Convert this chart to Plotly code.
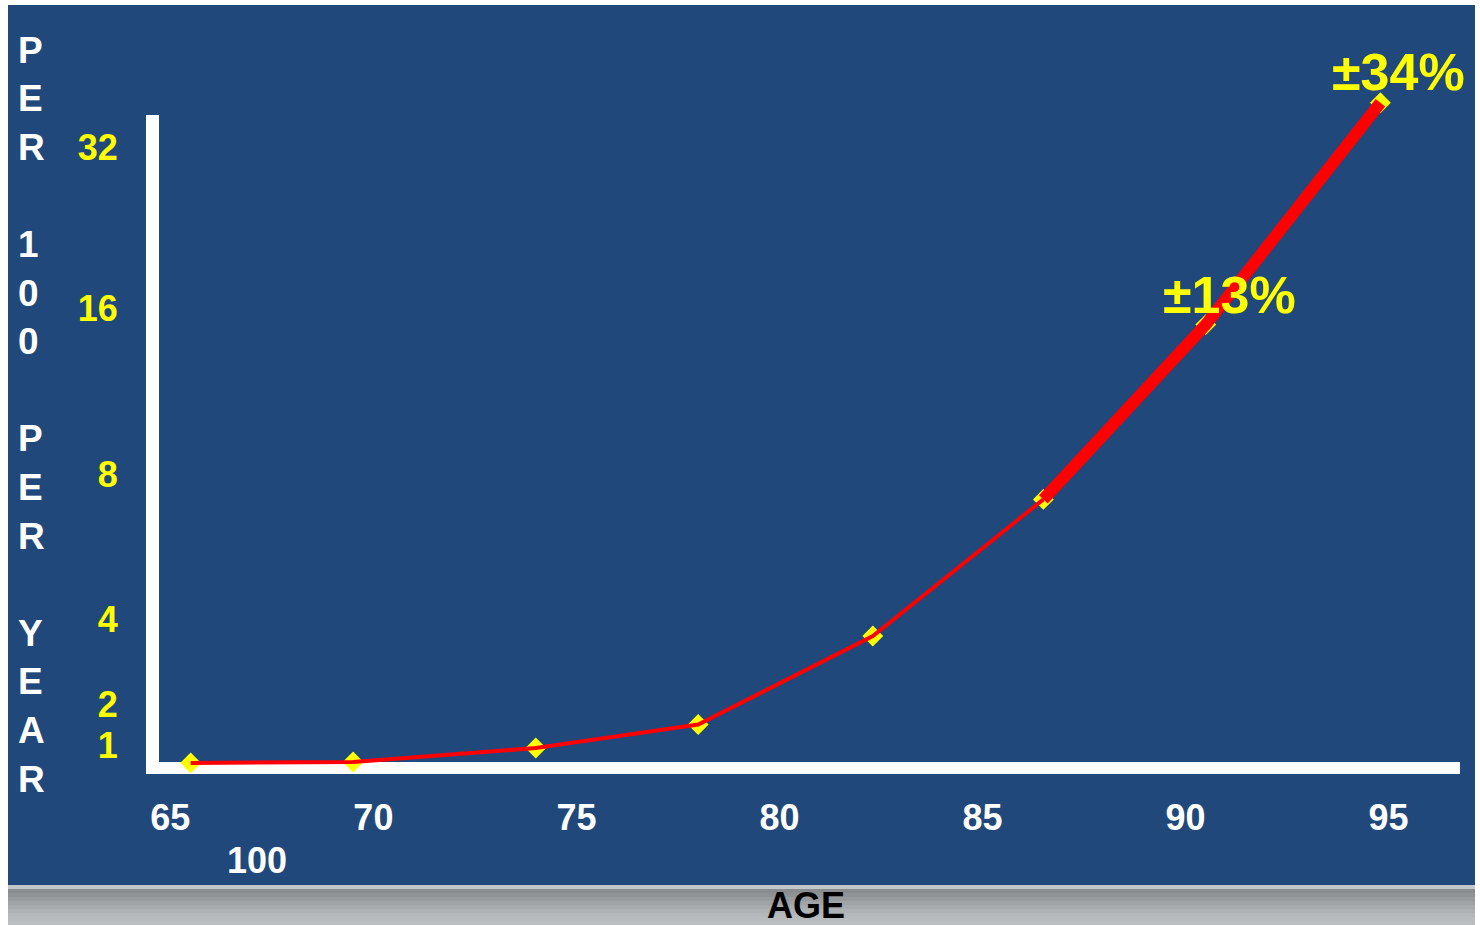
import numpy as np
import plotly.graph_objects as go

# ---------------- data ----------------
AGES = [65.5, 69.5, 74.0, 78.0, 82.3, 86.5, 90.5, 94.8]
RATES = [0.22, 0.26, 0.87, 1.5, 3.6, 7.3, 15.2, 36.4]   # per 100 per year
X_TICKS = [65, 70, 75, 80, 85, 90, 95]
Y_TICK_LABELS = [1, 2, 4, 8, 16, 32]
ERR_LABELS = ["±13%", "±34%"]          # for the last two age groups
THICK_FROM = 5                          # index where the thick segment starts
Y_TITLE = "PER 100 PER YEAR"
X_TITLE = "AGE"
EXTRA_LABEL = "100"

# ------------- the chart's own (non-uniform) vertical scale -------------
SCALE_VALUES = [0, 1, 2, 4, 8, 16, 32]
SCALE_HEIGHTS = [0, 23, 64, 149, 294, 460, 621]


def to_display(v):
    v = np.asarray(v, dtype=float)
    top_slope = (SCALE_HEIGHTS[-1] - SCALE_HEIGHTS[-2]) / (SCALE_VALUES[-1] - SCALE_VALUES[-2])
    out = np.interp(v, SCALE_VALUES, SCALE_HEIGHTS)
    over = v > SCALE_VALUES[-1]
    out[over] = SCALE_HEIGHTS[-1] + (v[over] - SCALE_VALUES[-1]) * top_slope
    return out


Y_DISP = to_display(RATES)
Y_TICK_DISP = to_display(Y_TICK_LABELS)

W, H = 1480, 925
BLUE = "#20487a"
FONT = "Liberation Sans, Arial, sans-serif"


def px(x):
    return x / W


def py(y):
    return 1 - y / H


fig = go.Figure()

# markers first (line is drawn over them)
fig.add_trace(go.Scatter(
    x=AGES, y=Y_DISP, mode="markers",
    marker=dict(symbol="diamond", size=16, color="#ffff00",
                line=dict(width=0)),
    cliponaxis=False, hoverinfo="skip", showlegend=False))

# thin part of the curve
fig.add_trace(go.Scatter(
    x=AGES[:THICK_FROM + 1], y=Y_DISP[:THICK_FROM + 1], mode="lines",
    line=dict(color="#ff0000", width=4), showlegend=False))

# thick part of the curve
fig.add_trace(go.Scatter(
    x=AGES[THICK_FROM:], y=Y_DISP[THICK_FROM:], mode="lines",
    line=dict(color="#ff0000", width=12), showlegend=False))

annotations = []
# error labels
for lab, xa, ya, xs, ys in zip(ERR_LABELS, AGES[-2:], Y_DISP[-2:], [24, 18], [30, 31]):
    annotations.append(dict(
        x=xa, y=ya, xref="x", yref="y", text=lab, showarrow=False,
        xshift=xs, yshift=ys,
        font=dict(family=FONT, size=52, color="#ffff00", weight="bold")))

# vertical stacked y-title
for i, ch in enumerate(Y_TITLE):
    if ch == " ":
        continue
    annotations.append(dict(
        x=px(16), y=py(50 + i * 48.6), xref="paper", yref="paper",
        xanchor="left", yanchor="middle", text=ch, showarrow=False,
        font=dict(family=FONT, size=37, color="white", weight="bold")))

annotations.append(dict(
    x=px(257), y=py(860), xref="paper", yref="paper", text=EXTRA_LABEL,
    showarrow=False, xanchor="center", yanchor="middle",
    font=dict(family=FONT, size=36, color="white", weight="bold")))

annotations.append(dict(
    x=px(806), y=py(905), xref="paper", yref="paper", text=X_TITLE,
    showarrow=False, xanchor="center", yanchor="middle",
    font=dict(family=FONT, size=36, color="black", weight="bold")))

shapes = [dict(type="rect", xref="paper", yref="paper",
               x0=px(8), x1=px(1475), y0=py(885), y1=py(5),
               fillcolor=BLUE, line=dict(width=0), layer="below")]
# gray gradient strip at the bottom
grays = ["#c4c7ca", "#8a8d90", "#909396", "#989b9e", "#a0a3a6", "#a8abae",
         "#afb2b5", "#b5b8bb", "#b9bcbf", "#bbbec1"]
band = 40 / len(grays)
for k, g in enumerate(grays):
    shapes.append(dict(type="rect", xref="paper", yref="paper",
                       x0=px(8), x1=px(1475),
                       y0=py(885 + (k + 1) * band), y1=py(885 + k * band),
                       fillcolor=g, line=dict(width=0), layer="below"))
# white L-shaped axes
shapes.append(dict(type="rect", xref="paper", yref="paper",
                   x0=px(146), x1=px(159), y0=py(774), y1=py(115),
                   fillcolor="white", line=dict(width=0), layer="below"))
shapes.append(dict(type="rect", xref="paper", yref="paper",
                   x0=px(146), x1=px(1460), y0=py(774), y1=py(762),
                   fillcolor="white", line=dict(width=0), layer="below"))

fig.update_layout(
    width=W, height=H,
    margin=dict(l=0, r=0, t=0, b=0),
    paper_bgcolor="white", plot_bgcolor="rgba(0,0,0,0)",
    showlegend=False,
    shapes=shapes, annotations=annotations,
    xaxis=dict(domain=[px(146), px(1475)], range=[64.40, 97.13],
               showgrid=False, zeroline=False, showline=False,
               tickvals=X_TICKS, ticktext=[str(t) for t in X_TICKS],
               ticks="outside", ticklen=12, tickcolor="rgba(0,0,0,0)",
               tickfont=dict(family=FONT, size=36, color="white", weight="bold")),
    yaxis=dict(domain=[py(774), py(5)], range=[-6, 763],
               showgrid=False, zeroline=False, showline=False,
               tickvals=list(Y_TICK_DISP), ticktext=[str(t) for t in Y_TICK_LABELS],
               ticks="outside", ticklen=20, tickcolor="rgba(0,0,0,0)",
               tickfont=dict(family=FONT, size=36, color="#ffff00", weight="bold")),
)

fig.write_html("out.html", config={"displayModeBar": False},
               post_script="document.body.style.margin='0';document.body.style.overflow='hidden';")
